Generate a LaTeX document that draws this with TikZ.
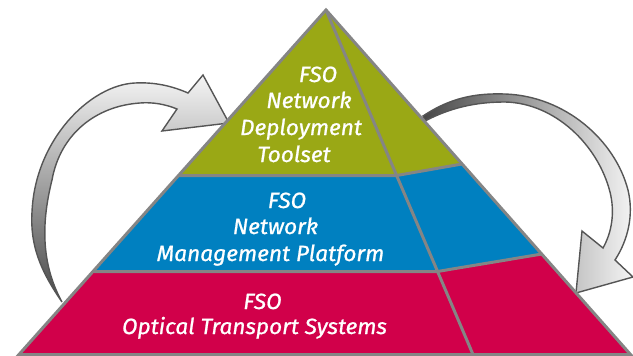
\documentclass[tikz,border=0pt]{standalone}
\usepackage{fontspec}
\setmainfont{Fira Sans}
\newfontfamily\pyrfont{Fira Sans}[FakeBold=0.9, FakeStretch=1.03]
\definecolor{pyrOlive}{HTML}{9AA815}
\definecolor{pyrBlue}{HTML}{0080C0}
\definecolor{pyrRed}{HTML}{D1004A}
\definecolor{pyrLine}{HTML}{858585}
\definecolor{arrLine}{HTML}{555555}
\begin{document}
\begin{tikzpicture}[x=1pt,y=-1pt,
  txt/.style={text=white, font=\pyrfont\fontsize{22}{26}\selectfont\itshape, anchor=base, inner sep=0pt},
  pline/.style={draw=pyrLine, line width=3pt, line join=miter},
  arrowbody/.style={draw=arrLine, line width=1.4pt, line join=miter}]
\useasboundingbox (0,0) rectangle (633,356);
% named points
\coordinate (A) at (326,10);
\coordinate (BL) at (19,354.5);
\coordinate (BR) at (630.5,354.5);
\coordinate (RB) at (473,354.5);
\coordinate (L1) at (179.2,175.5);
\coordinate (R1) at (396.6,175.5);
\coordinate (E1) at (462,164);
\coordinate (L2) at (94,271.5);
\coordinate (R2) at (437.4,271.5);
\coordinate (E2) at (542,254);
% left arrow
\shadedraw[arrowbody, top color=gray!8, bottom color=black!72]
  (62,302) .. controls (40,270) and (30,245) .. (32,212)
  .. controls (35,140) and (90,85) .. (135,83)
  .. controls (155,82) and (172,86) .. (188,93)
  -- (203,75) -- (229,123) -- (162,131) -- (177,109)
  .. controls (165,104) and (152,102) .. (140,103)
  .. controls (95,106) and (60,135) .. (52,180)
  .. controls (42,220) and (40,262) .. (62,302) -- cycle;
% right arrow
\shadedraw[arrowbody, left color=black!72, right color=gray!8]
  (423,116) .. controls (450,98) and (475,93) .. (505,94)
  .. controls (565,96) and (615,140) .. (628,190)
  .. controls (634,215) and (628,240) .. (615,260)
  -- (633,277) -- (576,293) -- (582,231) -- (603,248)
  .. controls (612,232) and (615,212) .. (610,192)
  .. controls (598,145) and (555,103) .. (505,102)
  .. controls (475,102) and (450,108) .. (425,121) -- cycle;
% pyramid fills
\fill[pyrOlive] (A) -- (E1) -- (R1) -- (L1) -- cycle;
\fill[pyrBlue] (L1) -- (R1) -- (E1) -- (E2) -- (R2) -- (L2) -- cycle;
\fill[pyrRed] (L2) -- (R2) -- (E2) -- (BR) -- (BL) -- cycle;
% pyramid lines
\draw[pline] (L1) -- (R1) -- (E1);
\draw[pline] (L2) -- (R2) -- (E2);
\draw[pline] (A) -- (RB);
\draw[pline] (A) -- (BL) -- (BR) -- cycle;
% texts
\node[txt] (t1) at (318,82) {FSO};
\node[txt] (t2) at (309,108) {Network};
\node[txt] (t3) at (301,135) {Deployment};
\node[txt] (t4) at (294,162) {Toolset};
\node[txt] (m1) at (287,208) {FSO};
\node[txt] (m2) at (275.5,234) {Network};
\node[txt] (m3) at (270.5,261) {Management Platform};
\node[txt] (b1) at (262.5,309) {FSO};
\node[txt] (b2) at (254.5,334) {Optical Transport Systems};
\end{tikzpicture}
\end{document}
